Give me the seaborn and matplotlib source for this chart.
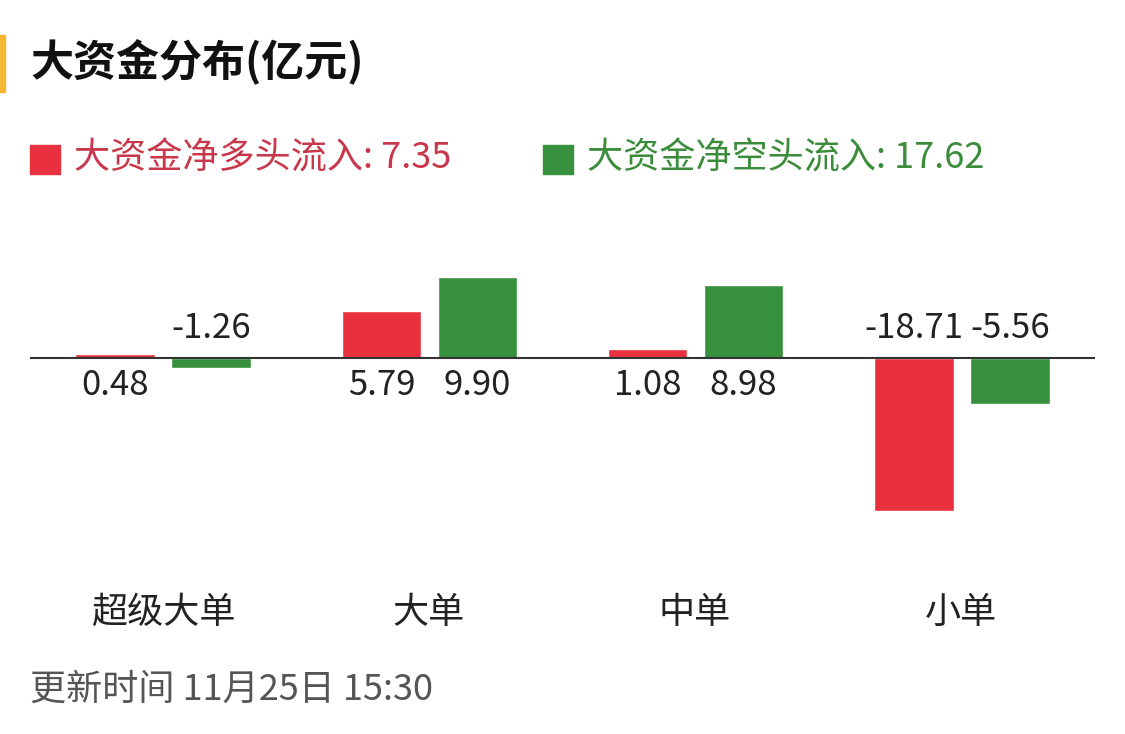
import matplotlib
matplotlib.use("Agg")
import matplotlib.pyplot as plt
import seaborn as sns
import pandas as pd
from matplotlib.patches import Rectangle

sns.set_theme(style="white")
plt.rcParams['font.family'] = ['Noto Sans CJK SC', 'DejaVu Sans']

categories = ["超级大单", "大单", "中单", "小单"]
long_vals = [0.48, 5.79, 1.08, -18.71]
short_vals = [-1.26, 9.90, 8.98, -5.56]
series = ["多头", "空头"]
title = "大资金分布(亿元)"
legend_long = "大资金净多头流入: 7.35"
legend_short = "大资金净空头流入: 17.62"
footer = "更新时间 11月25日 15:30"

red = "#E8303F"
green = "#36903C"

df = pd.DataFrame({
    "cat": categories * 2,
    "val": long_vals + short_vals,
    "s": [series[0]] * 4 + [series[1]] * 4,
})

fig = plt.figure(figsize=(11.25, 7.34), dpi=100)
W, H = 1125, 734
ax = fig.add_axes([30 / W, 1 - 540 / H, 1065 / W, 340 / H])
sns.barplot(data=df, x="cat", y="val", hue="s", palette=[red, green],
            width=0.72, gap=0.17, ax=ax, legend=False, saturation=1)
ax.set_xlim(-0.5, 3.5)
ax.set_ylim(-22.3, 19.4)
ax.axhline(0, color="#333333", lw=1.5)
for s in ax.spines.values():
    s.set_visible(False)
ax.set_xticks([]); ax.set_yticks([])
ax.set_xlabel(""); ax.set_ylabel("")

off = 0.18
for i, c in enumerate(categories):
    for v, dx in ((long_vals[i], -off), (short_vals[i], off)):
        if v >= 0:
            ax.text(i + dx, -1.2, f"{v:.2f}", ha="center", va="top", fontsize=25, color="#222222")
        else:
            ax.text(i + dx, 1.5, f"{v:.2f}", ha="center", va="bottom", fontsize=25, color="#222222")
    fig.text((163 + 266 * i) / W, 1 - 613 / H, c, ha="center", va="center", fontsize=26, color="#222222")

fig.patches.append(Rectangle((0, 1 - 92 / H), 5 / W, 57 / H, transform=fig.transFigure, color="#F5B731"))
fig.text(30 / W, 1 - 62 / H, title, ha="left", va="center", fontsize=31, fontweight="bold", color="#111111")
fig.patches.append(Rectangle((30 / W, 1 - 174 / H), 30 / W, 29 / H, transform=fig.transFigure, color=red))
fig.text(74 / W, 1 - 158 / H, legend_long, ha="left", va="center", fontsize=26, color="#C9374B")
fig.patches.append(Rectangle((543 / W, 1 - 174 / H), 30 / W, 29 / H, transform=fig.transFigure, color=green))
fig.text(587 / W, 1 - 158 / H, legend_short, ha="left", va="center", fontsize=26, color="#3B8C3B")
fig.text(30 / W, 1 - 690 / H, footer, ha="left", va="center", fontsize=26, color="#555555")

fig.savefig("out.png", dpi=100, facecolor="white")
